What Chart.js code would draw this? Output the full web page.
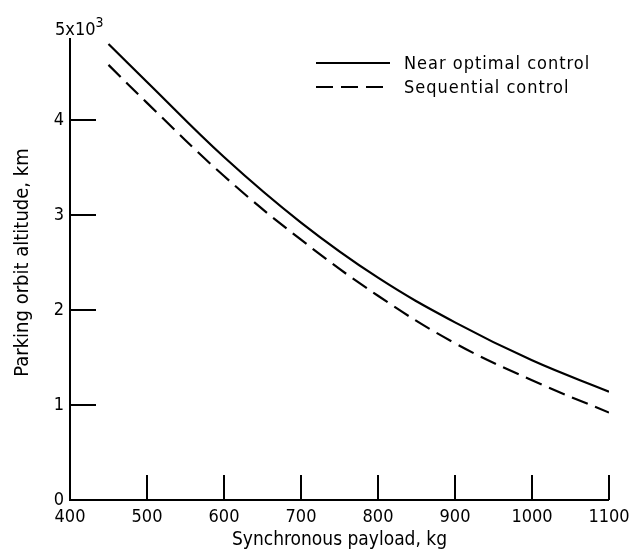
<!DOCTYPE html>
<html>
<head>
<meta charset="utf-8">
<script src="https://cdn.jsdelivr.net/npm/chart.js@4/dist/chart.umd.min.js"></script>
<style>
  html, body { margin: 0; padding: 0; background: #fff; }
  #wrap { width: 631px; height: 552px; }
</style>
</head>
<body>
<div id="wrap"><canvas id="myChart" width="631" height="552"></canvas></div>
<script>
// payload in kg, altitude in thousands of km
var payload = [450, 500, 600, 700, 800, 900, 1000, 1100];
var nearOptimal = [4.80, 4.40, 3.61, 2.92, 2.34, 1.87, 1.47, 1.14];
var sequential = [4.58, 4.18, 3.41, 2.74, 2.15, 1.65, 1.26, 0.92];
var seriesNames = ['Near optimal control', 'Sequential control'];
var xTitle = 'Synchronous payload, kg';
var yTitle = 'Parking orbit altitude, km';

var FONT = '"Liberation Sans Narrow", "DejaVu Sans Condensed", "Liberation Sans", sans-serif';

function toPoints(xs, ys) {
  var pts = [];
  for (var i = 0; i < xs.length; i++) {
    pts.push({x: xs[i], y: ys[i]});
  }
  return pts;
}

// axes, inward ticks, the 5x10^3 label and the legend
var paperPlugin = {
  id: 'paper',
  afterDraw: function(chart) {
    var ctx = chart.ctx;
    var xs = chart.scales.x;
    var ys = chart.scales.y;
    var x0 = xs.getPixelForValue(400);
    var x1 = xs.getPixelForValue(1100);
    var y0 = ys.getPixelForValue(0);
    var y5 = ys.getPixelForValue(5);

    ctx.save();
    ctx.strokeStyle = '#000';
    ctx.lineWidth = 2;
    ctx.beginPath();
    ctx.moveTo(x0, y5 + 13);
    ctx.lineTo(x0, y0);
    ctx.lineTo(x1, y0);
    ctx.stroke();

    ys.ticks.forEach(function(t) {
      if (t.value > 0 && t.value < 5) {
        var py = ys.getPixelForValue(t.value);
        ctx.beginPath();
        ctx.moveTo(x0, py);
        ctx.lineTo(x0 + 26, py);
        ctx.stroke();
      }
    });
    xs.ticks.forEach(function(t) {
      if (t.value > 400) {
        var px = xs.getPixelForValue(t.value);
        ctx.beginPath();
        ctx.moveTo(px, y0);
        ctx.lineTo(px, y0 - 25);
        ctx.stroke();
      }
    });

    ctx.fillStyle = '#000';
    ctx.textAlign = 'left';
    ctx.textBaseline = 'alphabetic';
    ctx.font = '18px ' + FONT;
    ctx.fillText('5x10', x0 - 15, y5 + 10);
    var w = ctx.measureText('5x10').width;
    ctx.font = '14px ' + FONT;
    ctx.fillText('3', x0 - 15 + w, y5 + 2);

    // legend
    var area = chart.chartArea;
    var lx0 = area.left + 246;
    var lx1 = area.left + 320;
    chart.data.datasets.forEach(function(ds, i) {
      var ly = area.top + 38 + i * 24;
      ctx.setLineDash(ds.borderDash || []);
      ctx.beginPath();
      ctx.moveTo(lx0, ly);
      ctx.lineTo(lx1, ly);
      ctx.stroke();
      ctx.setLineDash([]);
      ctx.font = '18px ' + FONT;
      ctx.textBaseline = 'middle';
      ctx.letterSpacing = '1px';
      ctx.fillText(ds.label, lx1 + 14, ly + 1);
    });
    ctx.restore();
  }
};

var ctx = document.getElementById('myChart');
var myChart = new Chart(ctx, {
  type: 'line',
  data: {
    datasets: [
      {
        label: seriesNames[0],
        data: toPoints(payload, nearOptimal),
        borderColor: '#000',
        borderWidth: 2.2,
        pointRadius: 0,
        tension: 0.4,
        fill: false
      },
      {
        label: seriesNames[1],
        data: toPoints(payload, sequential),
        borderColor: '#000',
        borderWidth: 2.2,
        borderDash: [17, 8],
        pointRadius: 0,
        tension: 0.4,
        fill: false
      }
    ]
  },
  options: {
    responsive: false,
    animation: false,
    layout: { padding: { top: 25, right: 22, left: 0, bottom: 0 } },
    plugins: {
      legend: { display: false },
      tooltip: { enabled: false }
    },
    scales: {
      x: {
        type: 'linear',
        min: 400,
        max: 1100,
        ticks: {
          stepSize: 100,
          color: '#000',
          padding: 7,
          maxRotation: 0,
          font: { family: FONT, size: 18 },
          callback: function(v) { return String(v); }
        },
        grid: { display: false, drawTicks: false },
        border: { display: false },
        title: {
          display: true,
          text: xTitle,
          color: '#000',
          padding: { top: 0, bottom: 1 },
          font: { family: FONT, size: 19 }
        },
        afterFit: function(scale) {
          scale.height = 52;
          scale.paddingLeft = 0;
          scale.paddingRight = 0;
        }
      },
      y: {
        min: 0,
        max: 5,
        ticks: {
          stepSize: 1,
          color: '#000',
          padding: 6,
          font: { family: FONT, size: 18 },
          callback: function(v) { return v === 5 ? '' : String(v); }
        },
        grid: { display: false, drawTicks: false },
        border: { display: false },
        title: {
          display: true,
          text: yTitle,
          color: '#000',
          padding: { top: 11, bottom: 0 },
          font: { family: FONT, size: 20 }
        },
        afterFit: function(scale) {
          scale.width = 70;
          scale.paddingTop = 0;
          scale.paddingBottom = 0;
        }
      }
    }
  },
  plugins: [paperPlugin]
});
</script>
</body>
</html>
